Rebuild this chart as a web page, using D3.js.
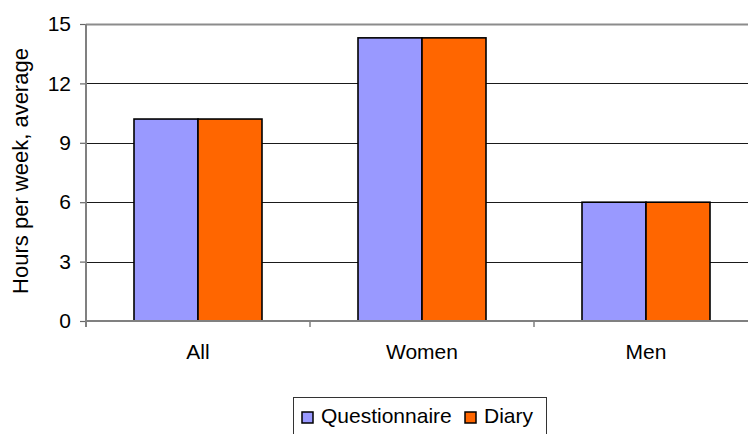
<!DOCTYPE html>
<html>
<head>
<meta charset="utf-8">
<script src="https://cdn.jsdelivr.net/npm/d3@7"></script>
<style>
  html, body { margin: 0; padding: 0; background: #fff; }
  svg { display: block; font-family: "Liberation Sans", Arial, sans-serif; }
</style>
</head>
<body>
<svg id="chart" width="748" height="434"></svg>
<script>
// Average weekly hours, by group and by measurement method
const categories = ["All", "Women", "Men"];
const seriesNames = ["Questionnaire", "Diary"];
const questionnaire = [10.2, 14.3, 6.0];
const diary = [10.2, 14.3, 6.0];
const yTicks = [0, 3, 6, 9, 12, 15];
const yTitle = "Hours per week, average";

const colors = { Questionnaire: "#9999ff", Diary: "#ff6600" };
const seriesValues = { Questionnaire: questionnaire, Diary: diary };

const svg = d3.select("#chart");
const plot = { left: 86, right: 758, top: 24, bottom: 321 };
const fontSize = 21;

const x = d3.scaleBand()
  .domain(categories)
  .range([plot.left, plot.right])
  .paddingInner(0)
  .paddingOuter(0);

const x1 = d3.scaleBand()
  .domain(seriesNames)
  .range([0, x.bandwidth()])
  .paddingInner(0)
  .paddingOuter(0.75);

const y = d3.scaleLinear()
  .domain([0, 15])
  .range([plot.bottom, plot.top]);

// Horizontal gridlines
svg.append("g")
  .selectAll("line")
  .data(yTicks.filter(d => d > 0))
  .join("line")
  .attr("x1", plot.left)
  .attr("x2", plot.right)
  .attr("y1", d => Math.round(y(d)) + 0.5)
  .attr("y2", d => Math.round(y(d)) + 0.5)
  .attr("stroke", d => d === 15 ? "#8c8c8c" : "#1a1a1a")
  .attr("stroke-width", d => d === 15 ? 2 : 1);

// Bars
const rows = categories.map((c, i) => ({
  category: c,
  values: seriesNames.map(s => ({ series: s, value: seriesValues[s][i] }))
}));

svg.append("g")
  .selectAll("g")
  .data(rows)
  .join("g")
  .attr("transform", d => `translate(${x(d.category)},0)`)
  .selectAll("rect")
  .data(d => d.values)
  .join("rect")
  .attr("x", d => x1(d.series))
  .attr("y", d => y(d.value))
  .attr("width", x1.bandwidth())
  .attr("height", d => y(0) - y(d.value))
  .attr("fill", d => colors[d.series])
  .attr("stroke", "#000")
  .attr("stroke-width", 1.6);

// Y axis
const yAxis = svg.append("g")
  .attr("transform", `translate(${plot.left},0)`)
  .call(d3.axisLeft(y).tickValues(yTicks).tickSize(6).tickSizeOuter(0).tickPadding(9));
yAxis.select(".domain").remove();
yAxis.selectAll(".tick line").attr("stroke", "#666").attr("stroke-width", 1.2);
yAxis.selectAll(".tick text")
  .attr("font-size", fontSize)
  .attr("fill", "#000")
  .attr("font-family", "Liberation Sans, Arial, sans-serif");
svg.append("line")
  .attr("x1", plot.left).attr("x2", plot.left)
  .attr("y1", plot.top).attr("y2", plot.bottom + 6)
  .attr("stroke", "#808080").attr("stroke-width", 2);

// X axis: baseline, ticks at category boundaries, labels at centres
const xAxis = svg.append("g")
  .attr("transform", `translate(0,${plot.bottom})`);
xAxis.append("line")
  .attr("x1", plot.left).attr("x2", plot.right)
  .attr("y1", 0).attr("y2", 0)
  .attr("stroke", "#808080").attr("stroke-width", 2);
xAxis.selectAll(".bound")
  .data(categories.slice(1))
  .join("line")
  .attr("class", "bound")
  .attr("x1", d => x(d)).attr("x2", d => x(d))
  .attr("y1", 0).attr("y2", 6)
  .attr("stroke", "#808080").attr("stroke-width", 1.5);
xAxis.selectAll("text")
  .data(categories)
  .join("text")
  .attr("x", d => x(d) + x.bandwidth() / 2)
  .attr("y", 38)
  .attr("text-anchor", "middle")
  .attr("font-size", fontSize)
  .attr("fill", "#000")
  .text(d => d);

// Y axis title
svg.append("text")
  .attr("transform", "translate(28,171) rotate(-90)")
  .attr("text-anchor", "middle")
  .attr("font-size", 22)
  .attr("fill", "#000")
  .text(yTitle);

// Legend
const legend = svg.append("g").attr("transform", "translate(293,397)");
legend.append("rect")
  .attr("x", 0.5).attr("y", 0.5)
  .attr("width", 253).attr("height", 44)
  .attr("fill", "#fff")
  .attr("stroke", "#333").attr("stroke-width", 1);

const legendX = d3.scalePoint().domain(seriesNames).range([9, 172]);
const item = legend.selectAll(".item")
  .data(seriesNames)
  .join("g")
  .attr("class", "item")
  .attr("transform", d => `translate(${legendX(d)},0)`);
item.append("rect")
  .attr("x", 0).attr("y", 15)
  .attr("width", 11).attr("height", 11)
  .attr("fill", d => colors[d])
  .attr("stroke", "#000").attr("stroke-width", 1.5);
item.append("text")
  .attr("x", 19).attr("y", 26)
  .attr("font-size", fontSize)
  .attr("fill", "#000")
  .text(d => d);
</script>
</body>
</html>
